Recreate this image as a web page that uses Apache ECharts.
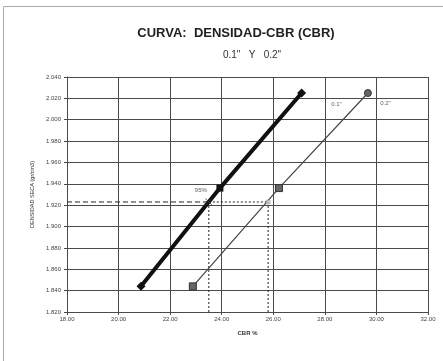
<!DOCTYPE html>
<html><head><meta charset="utf-8">
<script src="https://cdn.jsdelivr.net/npm/echarts@6/dist/echarts.min.js"></script>
<style>html,body{margin:0;padding:0;background:#fff}#c{width:443px;height:361px}</style>
</head><body><div id="c"></div>
<script>
// Data
const cbrThick = [20.87, 23.93, 27.10];
const densThick = [1.844, 1.936, 2.025];
const cbrThin = [22.88, 26.22, 29.67];
const densThin = [1.844, 1.936, 2.025];
const dens95 = 1.923;
const cbr95Thick = 23.5;
const cbr95Thin = 25.8;
const xMin = 18, xMax = 32, xStep = 2;
const yMin = 1.82, yMax = 2.04, yStep = 0.02;
const notes = [['0.1"', 28.45, 2.014], ['0.2"', 30.35, 2.015]];

const pairs = (xs, ys) => xs.map((x, i) => [x, ys[i]]);
const chart = echarts.init(document.getElementById('c'), null, {renderer: 'canvas'});
const gridColor = '#4a4a4a';
const lblStyle = {fontSize: 6, color: '#444', fontFamily: 'Liberation Sans'};

chart.setOption({
  animation: false,
  backgroundColor: '#fff',
  title: [
    {text: 'CURVA:  DENSIDAD-CBR (CBR)', left: 231, top: 22, textAlign: 'center',
     textStyle: {fontSize: 13, fontWeight: 'bold', color: '#222', fontFamily: 'Liberation Sans'}},
    {text: '0.1"   Y   0.2"', left: 247, top: 45, textAlign: 'center',
     textStyle: {fontSize: 10, fontWeight: 'normal', color: '#333', fontFamily: 'Liberation Sans'}}
  ],
  graphic: [
    {type: 'rect', shape: {x: 3.5, y: 6.5, width: 450, height: 400},
     style: {fill: 'none', stroke: '#aaa', lineWidth: 1}}
  ],
  grid: {left: 67, right: 15, top: 77, bottom: 49},
  xAxis: {
    type: 'value', min: xMin, max: xMax, interval: xStep,
    name: 'CBR %', nameLocation: 'middle', nameGap: 18,
    nameTextStyle: {fontSize: 6, fontWeight: 'bold', color: '#333', fontFamily: 'Liberation Sans'},
    axisLine: {show: true, lineStyle: {color: gridColor, width: 1}},
    axisTick: {show: true, length: 3, lineStyle: {color: gridColor}},
    axisLabel: Object.assign({margin: 4, formatter: v => v.toFixed(2)}, lblStyle),
    splitLine: {show: true, lineStyle: {color: gridColor, width: 1}}
  },
  yAxis: {
    type: 'value', min: yMin, max: yMax, interval: yStep,
    name: 'DENSIDAD SECA (gr/cm3)', nameLocation: 'middle', nameGap: 30, nameRotate: 90,
    nameTextStyle: {fontSize: 5.5, color: '#333', fontFamily: 'Liberation Sans'},
    axisLine: {show: true, lineStyle: {color: gridColor, width: 1}},
    axisTick: {show: true, length: 3, lineStyle: {color: gridColor}},
    axisLabel: Object.assign({margin: 6, formatter: v => v.toFixed(3)}, lblStyle),
    splitLine: {show: true, lineStyle: {color: gridColor, width: 1}}
  },
  series: [
    {type: 'line', data: [[xMin, dens95], [cbr95Thick, dens95]], symbol: 'none',
     lineStyle: {color: '#222', width: 1, type: [5, 3]}, z: 3},
    {type: 'line', data: [[cbr95Thick, dens95], [cbr95Thin, dens95]], symbol: 'none',
     lineStyle: {color: '#222', width: 1, type: [2, 2]}, z: 3},
    {type: 'line', data: [[cbr95Thick, yMin], [cbr95Thick, dens95]], symbol: 'none',
     lineStyle: {color: '#222', width: 1, type: [2, 2]}, z: 3},
    {type: 'line', data: [[cbr95Thin, yMin], [cbr95Thin, dens95]], symbol: 'none',
     lineStyle: {color: '#222', width: 1, type: [2, 2]}, z: 3},
    {type: 'line', data: pairs(cbrThin, densThin),
     symbol: (v, p) => p.dataIndex === 2 ? 'circle' : 'rect', symbolSize: 7,
     lineStyle: {color: '#444', width: 1.2},
     itemStyle: {color: '#666', borderColor: '#333', borderWidth: 1}, z: 4},
    {type: 'line', data: pairs(cbrThick, densThick),
     symbol: (v, p) => p.dataIndex === 1 ? 'rect' : 'diamond',
     symbolSize: (v, p) => p.dataIndex === 1 ? 7 : 9,
     lineStyle: {color: '#111', width: 4},
     itemStyle: {color: '#111'}, z: 5},
    {type: 'scatter', data: [[cbr95Thick, dens95]], symbol: 'path://M0,0L10,10M10,0L0,10',
     symbolSize: 7, itemStyle: {color: 'none', borderColor: '#333', borderWidth: 1}, z: 6,
     label: {show: true, formatter: '95%', position: [-8, -9], fontSize: 6, color: '#333'}},
    {type: 'scatter', data: [[cbr95Thin, dens95]], symbol: 'rect', symbolSize: 4,
     itemStyle: {color: '#ccc', borderColor: '#888', borderWidth: 0.5}, z: 6},
    {type: 'scatter', data: notes.map(n => ({value: [n[1], n[2]], name: n[0]})), symbolSize: 0,
     label: {show: true, position: 'inside', formatter: p => p.name, fontSize: 6, color: '#333'}, z: 6}
  ]
});
</script></body></html>
